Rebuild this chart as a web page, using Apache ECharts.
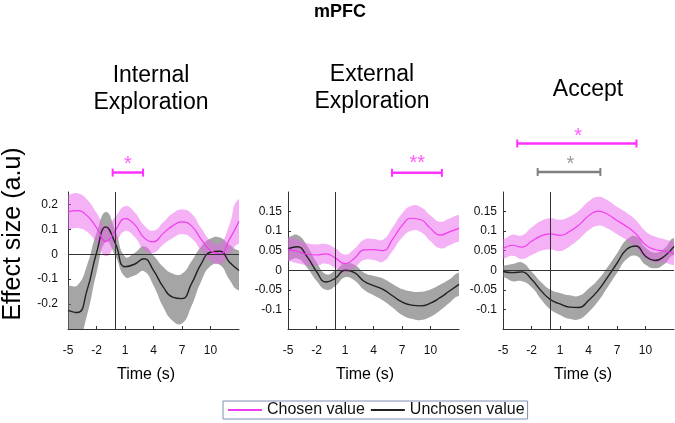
<!DOCTYPE html>
<html>
<head>
<meta charset="utf-8">
<script src="https://cdn.jsdelivr.net/npm/echarts@6/dist/echarts.min.js"></script>
<style>
  html, body { margin: 0; padding: 0; background: #fff; }
  #chart { width: 675px; height: 423px; }
</style>
</head>
<body>
<div id="chart"></div>
<script>
// time axis (s)
const times = [-5, -4, -3, -2, -1, 0, 1, 2, 3, 4, 5, 6, 7, 8, 9, 10, 11, 12, 13];
const xTicks = [-5, -2, 1, 4, 7, 10];
const yTicksInt = [-0.2, -0.1, 0, 0.1, 0.2];
const yTicksExt = [-0.1, -0.05, 0, 0.05, 0.1, 0.15];
const panelTitles = ["Internal\nExploration", "External\nExploration", "Accept"];
const legendNames = ["Chosen value", "Unchosen value"];

// Internal Exploration
const intChosen = [0.17, 0.175, 0.155, 0.107, 0.052, 0.097, 0.143, 0.12, 0.067, 0.05, 0.083, 0.114, 0.13, 0.114, 0.061, 0.015, 0.002, 0.06, 0.133];
const intChosenErr = [0.07, 0.07, 0.065, 0.06, 0.06, 0.055, 0.05, 0.05, 0.05, 0.045, 0.045, 0.05, 0.05, 0.05, 0.045, 0.04, 0.04, 0.06, 0.09];
const intUnchosen = [-0.225, -0.234, -0.145, 0.005, 0.11, 0.042, -0.05, -0.04, -0.018, -0.065, -0.13, -0.172, -0.178, -0.118, -0.04, 0.008, 0.012, -0.032, -0.065];
const intUnchosenErr = [0.1, 0.11, 0.1, 0.08, 0.06, 0.05, 0.04, 0.045, 0.05, 0.06, 0.08, 0.095, 0.1, 0.09, 0.07, 0.055, 0.055, 0.07, 0.08];

// External Exploration
const extChosen = [0.054, 0.048, 0.041, 0.039, 0.042, 0.031, 0.017, 0.031, 0.052, 0.053, 0.05, 0.079, 0.114, 0.133, 0.129, 0.107, 0.09, 0.098, 0.107];
const extChosenErr = [0.03, 0.03, 0.028, 0.027, 0.025, 0.025, 0.023, 0.024, 0.026, 0.027, 0.028, 0.03, 0.031, 0.032, 0.032, 0.033, 0.034, 0.034, 0.034];
const extUnchosen = [0.055, 0.06, 0.035, -0.003, -0.03, -0.02, 0, -0.006, -0.028, -0.039, -0.049, -0.065, -0.081, -0.089, -0.091, -0.084, -0.07, -0.053, -0.036];
const extUnchosenErr = [0.03, 0.03, 0.028, 0.024, 0.02, 0.02, 0.018, 0.02, 0.022, 0.025, 0.028, 0.03, 0.033, 0.035, 0.036, 0.035, 0.033, 0.03, 0.03];

// Accept
const accChosen = [0.055, 0.064, 0.059, 0.074, 0.088, 0.093, 0.089, 0.099, 0.116, 0.139, 0.151, 0.143, 0.127, 0.112, 0.093, 0.065, 0.053, 0.049, 0.043];
const accChosenErr = [0.025, 0.027, 0.03, 0.035, 0.038, 0.04, 0.04, 0.038, 0.037, 0.037, 0.037, 0.036, 0.035, 0.035, 0.035, 0.035, 0.033, 0.03, 0.03];
const accUnchosen = [-0.003, -0.006, -0.004, -0.023, -0.052, -0.075, -0.086, -0.094, -0.095, -0.077, -0.052, -0.018, 0.018, 0.053, 0.062, 0.036, 0.025, 0.036, 0.061];
const accUnchosenErr = [0.015, 0.022, 0.024, 0.02, 0.022, 0.025, 0.028, 0.03, 0.03, 0.03, 0.028, 0.026, 0.025, 0.025, 0.025, 0.022, 0.02, 0.02, 0.022];

// significance spans: [from, to, level] and stars: [time, level, text]
const intSigChosen = [[-0.3, 2.9, 0.328]];
const intStarsChosen = [[1.3, 0.361, "*"]];
const extSigChosen = [[5.95, 11.2, 0.249]];
const extStarsChosen = [[8.6, 0.272, "**"]];
const accSigChosen = [[-3.5, 9.05, 0.324]];
const accStarsChosen = [[2.9, 0.343, "*"]];
const accSigUnchosen = [[-1.35, 5.25, 0.251]];
const accStarsUnchosen = [[2.1, 0.27, "*"]];

const FONT = "Liberation Sans, Arial, sans-serif";
const MAGENTA = "#f03cf0";
const MAGENTA_BAND = "rgba(236,100,236,0.5)";
const GRAY_BAND = "rgba(110,110,110,0.62)";
const BLACK = "#222";
const SMOOTH = 0.5;

const panels = [
  { chosen: intChosen, chosenErr: intChosenErr, unchosen: intUnchosen, unchosenErr: intUnchosenErr,
    yMin: -0.3, yMax: 0.25, yTicks: yTicksInt, labelMargin: 10,
    sig: [[intSigChosen, intStarsChosen, "#ff33ff"]] },
  { chosen: extChosen, chosenErr: extChosenErr, unchosen: extUnchosen, unchosenErr: extUnchosenErr,
    yMin: -0.15, yMax: 0.2, yTicks: yTicksExt, labelMargin: 6,
    sig: [[extSigChosen, extStarsChosen, "#ff33ff"]] },
  { chosen: accChosen, chosenErr: accChosenErr, unchosen: accUnchosen, unchosenErr: accUnchosenErr,
    yMin: -0.15, yMax: 0.2, yTicks: yTicksExt, labelMargin: 6,
    sig: [[accSigChosen, accStarsChosen, "#ff33ff"], [accSigUnchosen, accStarsUnchosen, "#808080"]] }
];

// layout of the three panels
const gridLeft = [68, 288, 503];
const titleX = [151, 372, 588];
const titleTop = [62, 61, 76];
const timeLabelX = [146, 365, 583];

// band between mean-err and mean+err as one smoothed polygon
const bandSeries = (idx, mean, err, color, z) => {
  const data = times.map((t, i) => [t, mean[i] - err[i], mean[i] + err[i]]);
  return {
    type: "custom",
    xAxisIndex: idx,
    yAxisIndex: idx,
    z: z,
    silent: true,
    clip: true,
    data: data,
    encode: { x: 0, y: [1, 2] },
    renderItem: (params, api) => {
      if (params.dataIndex !== 0) return null;
      const n = data.length;
      // extend past the ends so the smoothing corners fall outside the grid
      const upper = [api.coord([data[0][0] - 2, data[0][2]])]
        .concat(data.map(d => api.coord([d[0], d[2]])))
        .concat([api.coord([data[n - 1][0] + 2, data[n - 1][2]])]);
      const lower = [api.coord([data[0][0] - 2, data[0][1]])]
        .concat(data.map(d => api.coord([d[0], d[1]])))
        .concat([api.coord([data[n - 1][0] + 2, data[n - 1][1]])]);
      const cs = params.coordSys;
      return {
        type: "group",
        clipPath: { type: "rect", shape: { x: cs.x, y: cs.y, width: cs.width, height: cs.height } },
        children: [{
          type: "polygon",
          shape: { points: upper.concat(lower.reverse()), smooth: SMOOTH },
          style: { fill: color }
        }]
      };
    }
  };
};

const grids = [];
const xAxes = [];
const yAxes = [];
const series = [];

panels.forEach((p, i) => {
  grids.push({ left: gridLeft[i], top: 192, width: 171, height: 137, outerBoundsMode: "none" });
  xAxes.push({
    type: "value", gridIndex: i, min: -5, max: 13,
    axisLine: { show: true, onZero: false, lineStyle: { color: "#333", width: 1 } },
    axisTick: { show: true, inside: true, length: 3, customValues: xTicks, lineStyle: { color: "#333" } },
    axisLabel: { customValues: xTicks, margin: 16, color: "#111", fontSize: 12, fontFamily: FONT },
    splitLine: { show: false }
  });
  yAxes.push({
    type: "value", gridIndex: i, min: p.yMin, max: p.yMax,
    axisLine: { show: true, onZero: false, lineStyle: { color: "#333", width: 1 } },
    axisTick: { show: true, inside: true, length: 3, customValues: p.yTicks, lineStyle: { color: "#333" } },
    axisLabel: { customValues: p.yTicks, margin: p.labelMargin, color: "#111", fontSize: 12, fontFamily: FONT },
    splitLine: { show: false }
  });

  series.push(bandSeries(i, p.unchosen, p.unchosenErr, GRAY_BAND, 1));
  series.push(bandSeries(i, p.chosen, p.chosenErr, MAGENTA_BAND, 2));

  series.push({
    name: legendNames[1], type: "line", xAxisIndex: i, yAxisIndex: i, z: 3,
    smooth: SMOOTH, showSymbol: false, silent: true,
    color: BLACK, lineStyle: { color: BLACK, width: 1.4 },
    data: times.map((t, k) => [t, p.unchosen[k]]),
    markLine: {
      silent: true, symbol: ["none", "none"], label: { show: false },
      lineStyle: { color: "#333", width: 1, type: "solid" },
      emphasis: { disabled: true },
      data: [{ xAxis: 0 }, { yAxis: 0 }]
    }
  });
  series.push({
    name: legendNames[0], type: "line", xAxisIndex: i, yAxisIndex: i, z: 4,
    smooth: SMOOTH, showSymbol: false, silent: true,
    color: MAGENTA, lineStyle: { color: MAGENTA, width: 1.2 },
    data: times.map((t, k) => [t, p.chosen[k]])
  });

  // significance bars with end caps and stars above the panel
  p.sig.forEach(([spans, stars, col]) => {
    spans.forEach(s => {
      series.push({
        type: "line", xAxisIndex: i, yAxisIndex: i, z: 5, clip: false, silent: true,
        symbol: "rect", symbolSize: [2, 8], showSymbol: true,
        itemStyle: { color: col }, lineStyle: { color: col, width: 2.6 },
        data: [[s[0], s[2]], [s[1], s[2]]]
      });
    });
    series.push({
      type: "scatter", xAxisIndex: i, yAxisIndex: i, z: 5, clip: false, silent: true,
      symbolSize: 0, itemStyle: { color: "transparent" },
      label: {
        show: true, position: "inside", color: col, fontSize: 20, fontFamily: FONT,
        formatter: d => d.data[2]
      },
      data: stars
    });
  });
});

const titles = [
  { text: "mPFC", left: 340, top: 2, textAlign: "center", padding: 0,
    textStyle: { fontSize: 18, fontWeight: "bold", color: "#000", fontFamily: FONT, lineHeight: 20 } }
];
panelTitles.forEach((t, i) => {
  titles.push({ text: t, left: titleX[i], top: titleTop[i], textAlign: "center", padding: 0,
    textStyle: { fontSize: 23, fontWeight: "normal", color: "#000", fontFamily: FONT, lineHeight: 27 } });
  titles.push({ text: "Time (s)", left: timeLabelX[i], top: 366, textAlign: "center", padding: 0,
    textStyle: { fontSize: 16, fontWeight: "normal", color: "#000", fontFamily: FONT, lineHeight: 18 } });
});

const chart = echarts.init(document.getElementById("chart"));
chart.setOption({
  animation: false,
  backgroundColor: "#fff",
  title: titles,
  legend: {
    data: legendNames, left: 223, top: 401, padding: [1, 3, 1, 5], itemGap: 6,
    itemWidth: 34, itemHeight: 2, icon: "rect",
    borderColor: "#7f8fb5", borderWidth: 1, selectedMode: false,
    textStyle: { fontSize: 16, color: "#111", fontFamily: FONT }
  },
  graphic: [{
    type: "text", x: 13, y: 234, rotation: Math.PI / 2,
    style: { text: "Effect size (a.u)", font: "25px " + FONT, fill: "#000", align: "center", verticalAlign: "middle" }
  }],
  grid: grids,
  xAxis: xAxes,
  yAxis: yAxes,
  series: series
});
</script>
</body>
</html>
